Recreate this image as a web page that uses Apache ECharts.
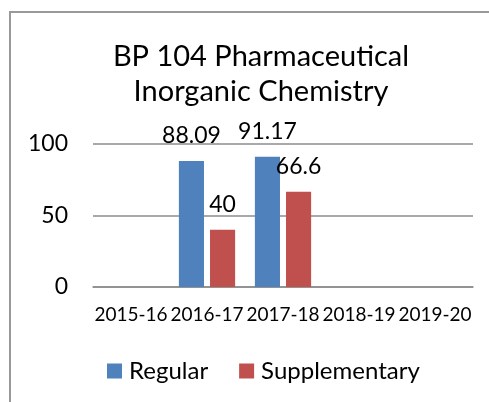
<!DOCTYPE html>
<html>
<head>
<meta charset="utf-8">
<script src="https://cdn.jsdelivr.net/npm/echarts@6/dist/echarts.min.js"></script>
<style>
  html, body { margin: 0; padding: 0; background: #fff; }
  #mychart { width: 489px; height: 402px; }
</style>
</head>
<body>
<div id="mychart"></div>
<script>
// chart data
const categories = ['2015-16', '2016-17', '2017-18', '2018-19', '2019-20']
const regular = [null, 88.09, 91.17, null, null]
const supplementary = [null, 40, 66.6, null, null]
const yTicks = { min: 0, max: 100, interval: 50 }

const font = 'Lato'

const option = {
  backgroundColor: '#fff',
  animation: false,
  title: {
    text: 'BP 104 Pharmaceutical\nInorganic Chemistry',
    left: 256,
    top: 34,
    textAlign: 'center',
    textStyle: {
      fontFamily: font,
      fontSize: 29,
      fontWeight: 'normal',
      color: '#000',
      lineHeight: 35
    }
  },
  legend: {
    left: 102,
    top: 354,
    itemWidth: 15,
    itemHeight: 15,
    itemGap: 31,
    icon: 'rect',
    textStyle: { fontFamily: font, fontSize: 24, color: '#000', padding: [0, 0, 0, 2] },
    data: ['Regular', 'Supplementary']
  },
  grid: { left: 93, right: 16, top: 144, bottom: 115, containLabel: false },
  xAxis: {
    type: 'category',
    data: categories,
    axisLine: { lineStyle: { color: '#8c8c8c', width: 1.5 } },
    axisTick: { show: false },
    axisLabel: { interval: 0, margin: 18, fontFamily: font, fontSize: 19, color: '#000' }
  },
  yAxis: {
    type: 'value',
    min: yTicks.min,
    max: yTicks.max,
    interval: yTicks.interval,
    axisLine: { show: false },
    axisTick: { show: false },
    splitLine: { lineStyle: { color: '#8c8c8c', width: 1.5 } },
    axisLabel: { margin: 25, fontFamily: font, fontSize: 23, color: '#000' }
  },
  series: [
    {
      name: 'Regular',
      type: 'bar',
      data: regular,
      barCategoryGap: '26%',
      barGap: '24%',
      itemStyle: { color: '#4F81BD' },
      label: { show: true, position: 'top', distance: 14, fontFamily: font, fontSize: 23, color: '#000' }
    },
    {
      name: 'Supplementary',
      type: 'bar',
      data: supplementary,
      barCategoryGap: '26%',
      barGap: '24%',
      itemStyle: { color: '#C0504D' },
      label: { show: true, position: 'top', distance: 14, fontFamily: font, fontSize: 23, color: '#000' }
    }
  ],
  graphic: [
    {
      type: 'rect',
      silent: true,
      shape: { x: 10, y: 12, width: 600, height: 500 },
      style: { fill: 'none', stroke: '#999', lineWidth: 2 }
    }
  ]
}

const myChart = echarts.init(document.getElementById('mychart'))
myChart.setOption(option)
</script>
</body>
</html>
